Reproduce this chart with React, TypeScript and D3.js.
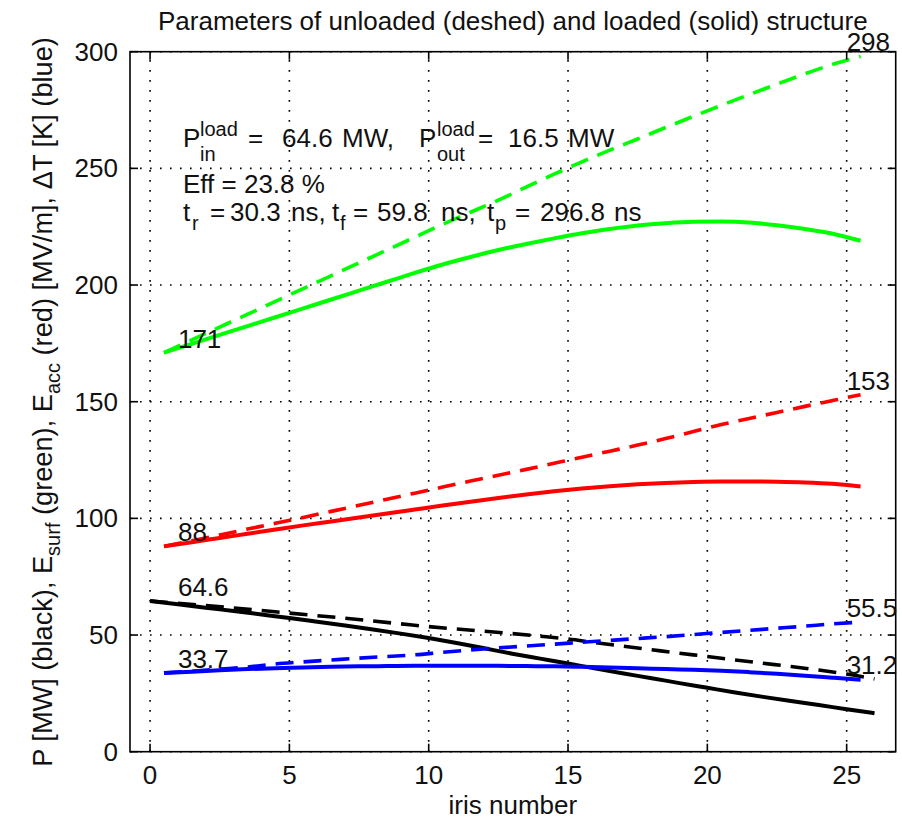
import React, { useEffect, useRef } from 'react';
import * as d3 from 'd3';

// iris positions: power is given at the iris edges, fields/temperature at cell centres
const irisEdges = [0, 1, 2, 3, 4, 5, 6, 7, 8, 9, 10, 11, 12, 13, 14, 15, 16, 17, 18, 19, 20, 21, 22, 23, 24, 25, 26];
const irisCells = [0.5, 1.5, 2.5, 3.5, 4.5, 5.5, 6.5, 7.5, 8.5, 9.5, 10.5, 11.5, 12.5, 13.5, 14.5, 15.5, 16.5, 17.5, 18.5, 19.5, 20.5, 21.5, 22.5, 23.5, 24.5, 25.5];

const powerUnloaded = [64.6, 63.6, 62.6, 61.6, 60.5, 59.4, 58.3, 57.2, 56, 54.8, 53.6, 52.6, 51.6, 50.6, 49.5, 48.3, 46.7, 45.2, 43.7, 42.2, 40.8, 39.3, 37.9, 36.5, 35, 33.3, 31.2];
const powerLoaded = [64.6, 63.2, 61.7, 60.3, 58.8, 57.3, 55.7, 54.1, 52.4, 50.6, 48.7, 46.6, 44.3, 42, 39.9, 37.8, 35.6, 33.5, 31.5, 29.4, 27.4, 25.4, 23.5, 21.7, 20, 18.2, 16.5];

const surfUnloaded = [171, 176.5, 182, 187.5, 193, 198.5, 204, 209.5, 215, 220.5, 226, 231.2, 236.4, 242, 247.5, 252.8, 257.8, 262.6, 267.5, 272.3, 277, 281.6, 286.1, 290.5, 294.6, 298];
const surfLoaded = [171, 174.8, 178.6, 182.4, 186.2, 190, 193.8, 197.6, 201.4, 205.2, 208.8, 212, 215, 217.6, 220, 222.2, 224, 225.5, 226.5, 227.1, 227.2, 226.8, 225.6, 224, 222, 219];

const accUnloaded = [88, 90.4, 92.9, 95.4, 97.9, 100.4, 103, 105.6, 108.2, 110.8, 113.4, 116, 118.5, 121, 123.6, 126.2, 128.8, 131.4, 134.2, 137.2, 140.2, 142.8, 145.4, 148, 150.5, 153];
const accLoaded = [88, 89.8, 91.6, 93.4, 95.2, 97, 98.7, 100.4, 102.1, 103.8, 105.5, 107.1, 108.7, 110.2, 111.6, 112.8, 113.8, 114.6, 115.2, 115.6, 115.8, 115.8, 115.7, 115.4, 114.8, 113.7];

const tempUnloaded = [33.7, 34.5, 35.4, 36.3, 37.6, 38.5, 39.3, 40.1, 40.8, 41.5, 42.6, 43.6, 44.5, 45.3, 46.1, 46.9, 47.7, 48.5, 49.3, 50.2, 51.1, 52, 52.9, 53.8, 54.8, 55.5];
const tempLoaded = [33.7, 34.3, 34.9, 35.4, 35.8, 36.1, 36.4, 36.6, 36.7, 36.8, 36.8, 36.8, 36.8, 36.7, 36.6, 36.4, 36.1, 35.8, 35.4, 35.1, 34.7, 34.1, 33.4, 32.6, 31.7, 30.8];

const xTicks = [0, 5, 10, 15, 20, 25];
const yTicks = [0, 50, 100, 150, 200, 250, 300];

const startLabels = ['171', '88', '64.6', '33.7'];
const startValues = [171, 88, 64.6, 33.7];
const endLabels = ['298', '153', '55.5', '31.2'];
const endValues = [298, 153, 55.5, 31.2];

const FONT = "'Liberation Sans', Arial, Helvetica, sans-serif";

function App() {
  const ref = useRef(null);

  useEffect(() => {
    const W = 902, H = 823;
    const left = 130, right = 895.7, top = 51.7, bottom = 751.7;

    const svg = d3.select(ref.current);
    svg.selectAll('*').remove();
    svg.attr('width', W).attr('height', H);

    svg.append('rect').attr('width', W).attr('height', H).attr('fill', '#fff');

    const x = d3.scaleLinear().domain([-0.72, 26.76]).range([left, right]);
    const y = d3.scaleLinear().domain([0, 300]).range([bottom, top]);

    // dotted grid
    const grid = svg.append('g')
      .attr('stroke', '#000')
      .attr('stroke-width', 1.6)
      .attr('stroke-dasharray', '1.6 8.4');
    grid.selectAll('.gx').data(xTicks).enter().append('line')
      .attr('x1', d => x(d)).attr('x2', d => x(d))
      .attr('y1', bottom).attr('y2', top);
    grid.selectAll('.gy').data(yTicks).enter().append('line')
      .attr('x1', left).attr('x2', right)
      .attr('y1', d => y(d)).attr('y2', d => y(d));

    // series
    const series = [
      { xs: irisCells, ys: surfUnloaded, color: '#00ff00', dash: true },
      { xs: irisCells, ys: surfLoaded, color: '#00ff00', dash: false },
      { xs: irisCells, ys: accUnloaded, color: '#ff0000', dash: true },
      { xs: irisCells, ys: accLoaded, color: '#ff0000', dash: false },
      { xs: irisEdges, ys: powerUnloaded, color: '#000000', dash: true },
      { xs: irisEdges, ys: powerLoaded, color: '#000000', dash: false },
      { xs: irisCells, ys: tempUnloaded, color: '#0000ff', dash: true },
      { xs: irisCells, ys: tempLoaded, color: '#0000ff', dash: false },
    ];
    const line = d3.line<number>()
      .x(d => x(d[0]))
      .y(d => y(d[1]))
      .curve(d3.curveMonotoneX);
    series.forEach(s => {
      svg.append('path')
        .datum(s.xs.map((v, i) => [v, s.ys[i]]))
        .attr('d', line as any)
        .attr('fill', 'none')
        .attr('stroke', s.color)
        .attr('stroke-width', s.dash ? 3.6 : 4)
        .attr('stroke-dasharray', s.dash ? '18 10' : null);
    });

    // box + inward ticks
    svg.append('rect')
      .attr('x', left).attr('y', top)
      .attr('width', right - left).attr('height', bottom - top)
      .attr('fill', 'none').attr('stroke', '#000').attr('stroke-width', 1.6);
    const tk = svg.append('g').attr('stroke', '#000').attr('stroke-width', 1.6);
    const tl = 8;
    xTicks.forEach(t => {
      tk.append('line').attr('x1', x(t)).attr('x2', x(t)).attr('y1', bottom).attr('y2', bottom - tl);
      tk.append('line').attr('x1', x(t)).attr('x2', x(t)).attr('y1', top).attr('y2', top + tl);
    });
    yTicks.forEach(t => {
      tk.append('line').attr('x1', left).attr('x2', left + tl).attr('y1', y(t)).attr('y2', y(t));
      tk.append('line').attr('x1', right).attr('x2', right - tl).attr('y1', y(t)).attr('y2', y(t));
    });

    const txt = svg.append('g')
      .attr('font-family', FONT)
      .attr('font-size', 26)
      .attr('fill', '#111');

    // tick labels
    txt.selectAll('.xt').data(xTicks).enter().append('text')
      .attr('x', d => x(d)).attr('y', 784)
      .attr('text-anchor', 'middle')
      .text(d => d);
    txt.selectAll('.yt').data(yTicks).enter().append('text')
      .attr('x', 118).attr('y', d => y(d) + 9)
      .attr('text-anchor', 'end')
      .text(d => d);

    // axis titles
    txt.append('text')
      .attr('x', (left + right) / 2).attr('y', 814)
      .attr('text-anchor', 'middle')
      .text('iris number');
    txt.append('text')
      .attr('x', (left + right) / 2).attr('y', 30)
      .attr('text-anchor', 'middle')
      .text('Parameters of unloaded (deshed) and loaded (solid) structure');

    const yl = txt.append('text')
      .attr('transform', `translate(52,402) rotate(-90)`)
      .attr('font-size', 27.2)
      .attr('text-anchor', 'middle');
    yl.append('tspan').text('P [MW] (black), E');
    yl.append('tspan').attr('dy', 8).attr('font-size', 20).text('surf');
    yl.append('tspan').attr('dy', -8).text(' (green), E');
    yl.append('tspan').attr('dy', 8).attr('font-size', 20).text('acc');
    yl.append('tspan').attr('dy', -8).text(' (red) [MV/m], \u0394T [K] (blue)');

    // value labels at both ends of the curves
    startLabels.forEach((s, i) => {
      txt.append('text').attr('x', x(1)).attr('y', y(startValues[i]) - 5).text(s);
    });
    endLabels.forEach((s, i) => {
      txt.append('text').attr('x', x(25)).attr('y', y(endValues[i]) - 5).text(s);
    });

    // annotation block (pieces placed like the MATLAB text)
    const piece = (px: number, py: number, s: string, size = 26) =>
      txt.append('text').attr('x', px).attr('y', py).attr('font-size', size).text(s);

    piece(183, 147, 'P');
    piece(200, 136, 'load', 20);
    piece(200, 161, 'in', 20);
    piece(248, 147, '=');
    piece(282, 147, '64.6');
    piece(342, 147, 'MW,');
    piece(419, 147, 'P');
    piece(437, 136, 'load', 20);
    piece(437, 161, 'out', 20);
    piece(478, 147, '=');
    piece(508, 147, '16.5');
    piece(568, 147, 'MW');

    piece(183, 193, 'Eff = 23.8 %');

    piece(183, 221, 't');
    piece(192, 230, 'r', 20);
    piece(210, 221, '=');
    piece(230, 221, '30.3');
    piece(291, 221, 'ns,');
    piece(332, 221, 't');
    piece(340, 230, 'f', 20);
    piece(353, 221, '=');
    piece(377, 221, '59.8');
    piece(441, 221, 'ns,');
    piece(487, 221, 't');
    piece(495, 230, 'p', 20);
    piece(515, 221, '=');
    piece(540, 221, '296.8');
    piece(614, 221, 'ns');
  }, []);

  return (
    <svg
      ref={ref}
      width={902}
      height={823}
      style={{ position: 'absolute', left: 0, top: 0, display: 'block' }}
    />
  );
}

export default App;
